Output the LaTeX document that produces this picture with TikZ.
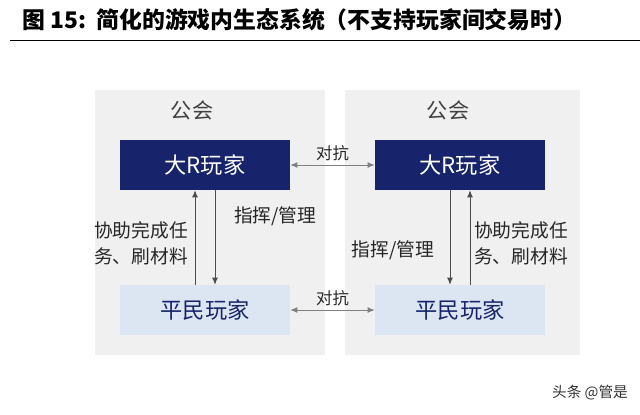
\documentclass[tikz,border=0pt]{standalone}
\usepackage{fontspec}
\setmainfont{Noto Sans CJK SC}
\usetikzlibrary{positioning, arrows.meta}

\definecolor{navy}{HTML}{17246B}
\definecolor{paleblue}{HTML}{DCE6F2}

\begin{document}
\begin{tikzpicture}[
  x = 0.03cm, y = -0.03cm,
  panel/.style={fill=black!6, draw=none},
  bigR/.style={fill=navy, text=white, minimum width=5.1cm, minimum height=1.5cm, font=\fontsize{19}{21}\selectfont},
  civil/.style={fill=paleblue, text=navy, minimum width=5.1cm, minimum height=1.5cm, font=\fontsize{19}{21}\selectfont},
  guild/.style={text=black!75, font=\fontsize{18}{20}\selectfont},
  lbl/.style={text=black!85, font=\fontsize{16}{22}\selectfont, align=left},
  link/.style={-{Latex[length=6pt,width=5pt]}, thick, black!70},
  both/.style={{Latex[length=6pt,width=5pt]}-{Latex[length=6pt,width=5pt]}, thick, black!50}
]
\useasboundingbox[fill=white] (0,0) rectangle (640,414);

%title
\node[anchor=west, font=\bfseries\fontsize{19.5}{22}\selectfont] (title) at (18,20) {图 15:\ \ 简化的游戏内生态系统（不支持玩家间交易时）};
\draw[thick] (10,40) -- (640,40);

%panels
\fill[panel] (95,90) rectangle (325,355);
\fill[panel] (345,90) rectangle (580,355);
\node[guild] (guildL) at (192,110) {公会};
\node[guild] (guildR) at (448,110) {公会};

%players
\node[bigR]  (bigL)   at (205,165) {大R玩家};
\node[bigR]  (bigRt)  at (460,165) {大R玩家};
\node[civil] (civL)   at (205,310) {平民玩家};
\node[civil] (civR)   at (460,310) {平民玩家};

%fights
\draw[both] (bigL) -- node[above, lbl, font=\fontsize{14}{16}\selectfont] {对抗} (bigRt);
\draw[both] (civL) -- node[above, lbl, font=\fontsize{14}{16}\selectfont] {对抗} (civR);

%left guild
\draw[link] ([xshift=-0.3cm]civL.north) -- ([xshift=-0.3cm]bigL.south);
\draw[link] ([xshift=0.3cm]bigL.south) -- ([xshift=0.3cm]civL.north);
\node[lbl, anchor=east] (helpL) at (192,243) {协助完成任\\务、刷材料};
\node[lbl, anchor=west] (cmdL) at (230,216) {指挥/管理};

%right guild
\draw[link] ([xshift=0.3cm]civR.north) -- ([xshift=0.3cm]bigRt.south);
\draw[link] ([xshift=-0.3cm]bigRt.south) -- ([xshift=-0.3cm]civR.north);
\node[lbl, anchor=east] (cmdR) at (438,250) {指挥/管理};
\node[lbl, anchor=west] (helpR) at (470,243) {协助完成任\\务、刷材料};

%watermark
\node[lbl, anchor=east, text=black!80, font=\fontsize{12.5}{16}\selectfont] (mark) at (632,393) {头条 @管是};
\end{tikzpicture}
\end{document}
